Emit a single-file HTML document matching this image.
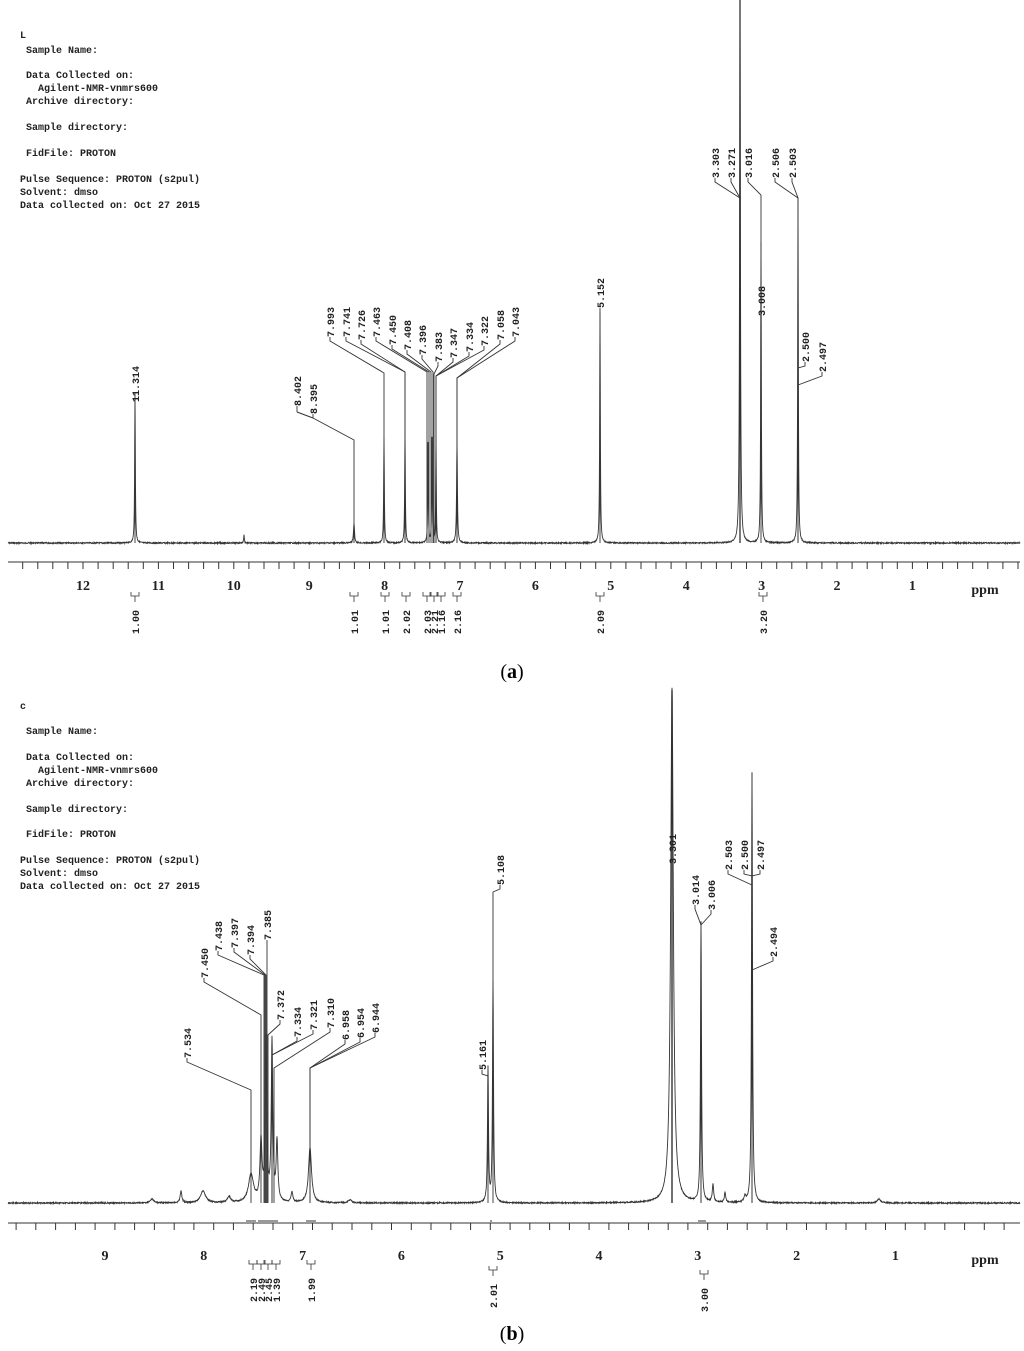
<!DOCTYPE html>
<html><head><meta charset="utf-8"><style>
html,body{margin:0;padding:0;background:#fff;}
svg{display:block;}
.t{font-family:"Liberation Mono",monospace;font-size:10px;font-weight:bold;fill:#222;}
.l{font-family:"Liberation Mono",monospace;font-size:10px;font-weight:bold;fill:#222;}
.n{font-family:"Liberation Serif",serif;font-size:14px;font-weight:bold;fill:#222;}
.c{font-family:"Liberation Serif",serif;font-size:20px;fill:#000;}
</style></head><body>
<svg id="s" width="1024" height="1351" viewBox="0 0 1024 1351" xmlns="http://www.w3.org/2000/svg">
<g fill="none" stroke="#333" stroke-width="1" id="g"></g>
<g id="tx"></g>
<text class="t" x="20" y="38">L</text>
<text class="t" x="26" y="53">Sample Name:</text>
<text class="t" x="26" y="78">Data Collected on:</text>
<text class="t" x="38" y="91">Agilent-NMR-vnmrs600</text>
<text class="t" x="26" y="104">Archive directory:</text>
<text class="t" x="26" y="130">Sample directory:</text>
<text class="t" x="26" y="156">FidFile: PROTON</text>
<text class="t" x="20" y="182">Pulse Sequence: PROTON (s2pul)</text>
<text class="t" x="20" y="195">Solvent: dmso</text>
<text class="t" x="20" y="208">Data collected on: Oct 27 2015</text>

<text class="t" x="20" y="709">c</text>
<text class="t" x="26" y="734">Sample Name:</text>
<text class="t" x="26" y="760">Data Collected on:</text>
<text class="t" x="38" y="773">Agilent-NMR-vnmrs600</text>
<text class="t" x="26" y="786">Archive directory:</text>
<text class="t" x="26" y="812">Sample directory:</text>
<text class="t" x="26" y="837">FidFile: PROTON</text>
<text class="t" x="20" y="863">Pulse Sequence: PROTON (s2pul)</text>
<text class="t" x="20" y="876">Solvent: dmso</text>
<text class="t" x="20" y="889">Data collected on: Oct 27 2015</text>

<text class="c" x="512" y="678" text-anchor="middle">(<tspan font-weight="bold">a</tspan>)</text>
<text class="c" x="512" y="1340" text-anchor="middle">(<tspan font-weight="bold">b</tspan>)</text>
</svg>
<script>
var NS="http://www.w3.org/2000/svg",g=document.getElementById('g'),tx=document.getElementById('tx');
function P(d,w){var p=document.createElementNS(NS,'path');p.setAttribute('d',d);if(w)p.setAttribute('stroke-width',w);g.appendChild(p);}
function T(x,y,s,cls,rot,anchor){var t=document.createElementNS(NS,'text');t.setAttribute('class',cls);t.setAttribute('x',x);t.setAttribute('y',y);if(rot)t.setAttribute('transform','rotate(-90 '+x+' '+y+')');if(anchor)t.setAttribute('text-anchor',anchor);t.textContent=s;tx.appendChild(t);}
function spec(base,peaks,seed){var d='';var r=seed;for(var x=8;x<=1020;x+=0.25){var y=base;for(var i=0;i<peaks.length;i++){var p=peaks[i];var u=(x-p[0])/p[2];y-=p[1]/(1+u*u);}r=(r*9301+49297)%233280;y+=(r/233280-0.5)*1.2;if(y<0)y=0;d+=(d?'L':'M')+x+' '+y.toFixed(1);}P(d,0.9);}
function axis(y,x0,ppm0,ppx,maxp,labY){P('M8 '+y+'L1020 '+y);for(var p=maxp;p>=-0.4;p-=0.2){var x=x0+(ppm0-p)*ppx;if(x<8||x>1020)continue;P('M'+x.toFixed(1)+' '+y+'l0 7');}for(var k=Math.floor(maxp);k>=1;k--){var x=x0+(ppm0-k)*ppx;T(x,labY,String(k),'n',0,'middle');}T(985,labY+4,'ppm','n',0,'middle');}
function L(tx_,tb,px,by,s,ey){T(tx_+4,tb,s,'l',1);P('M'+tx_+' '+tb+'l0 4L'+px+' '+by+'L'+px+' '+ey,0.9);}
function I(x,y,s){P('M'+(x-4)+' '+(y-6)+'l0 4l8 0l0 -4M'+x+' '+(y-2)+'l0 6',0.8);T(x+4,y+36,s,'l',1);}
// ===== (a) =====
spec(543,[[135,150,0.4],[354,20,0.6],[384,105,0.4],[405,110,0.4],[428,100,0.35],[432,105,0.35],[436,105,0.35],[457,100,0.5],[600,230,0.4],[740,540,0.5],[761,300,0.4],[798,340,0.4],[244,8,0.4]],7);
axis(562,83,12,75.4,12.8,590);
L(135,402,135,402,'11.314',543);
L(297,406,297,412,'8.402',412);P('M297 412L313 418');
L(313,414,354,440,'8.395',543);
var al=[[330,337,384,373,'7.993'],[346,337,405,372,'7.741'],[361,340,405,372,'7.726'],[376,337,427,372,'7.463'],[392,345,429,372,'7.450'],[407,350,431,372,'7.408'],[422,355,433,372,'7.396'],[438,362,434,374,'7.383'],[453,358,436,376,'7.347'],[469,352,436,376,'7.334'],[484,346,436,376,'7.322'],[500,340,457,378,'7.058'],[515,337,457,378,'7.043']];
al.forEach(function(a){L(a[0],a[1],a[2],a[3],a[4],543);});
L(600,308,600,312,'5.152',543);
L(715,178,740,198,'3.303',543);L(731,178,740,198,'3.271',543);L(748,178,761,195,'3.016',543);
L(775,178,798,198,'2.506',543);L(792,178,798,198,'2.503',543);
T(765,316,'3.008','l',1);
L(805,362,798,368,'2.500',543);L(822,372,798,385,'2.497',543);
P('M740 0L740 543',1.3);
I(135,598,'1.00');I(354,598,'1.01');I(385,598,'1.01');I(406,598,'2.02');I(427,598,'2.03');I(434,598,'2.21');I(441,598,'1.16');I(457,598,'2.16');I(600,598,'2.09');I(763,598,'3.20');
// ===== (b) =====
spec(1203,[[152,4,2],[181,12,1],[203,12,3],[229,6,2],[251,28,3],[261,60,1.2],[266,160,0.9],[272,160,0.9],[277,60,1],[292,10,1],[310,55,1.8],[350,3,2],[488,135,0.6],[493,220,0.6],[672,515,1.6],[701,280,0.6],[713,18,0.8],[725,10,0.8],[752,430,0.6],[745,6,1],[879,4,2]],11);
axis(1223,105,9,98.8,9.9,1260);
L(187,1058,251,1090,'7.534',1203);
L(204,978,261,1015,'7.450',1203);
L(218,951,264,975,'7.438',1203);L(234,948,265,975,'7.397',1203);L(250,955,266,975,'7.394',1203);L(267,940,267,975,'7.385',1203);
L(280,1020,268,1035,'7.372',1203);
L(297,1037,272,1055,'7.334',1203);L(313,1030,272,1055,'7.321',1203);
L(330,1028,274,1068,'7.310',1203);
L(345,1040,310,1068,'6.958',1203);L(360,1038,310,1068,'6.954',1203);L(375,1033,310,1068,'6.944',1203);
L(500,885,493,892,'5.108',1203);
L(482,1070,488,1076,'5.161',1203);
P('M672 690L672 1203',1.4);T(676,864,'3.301','l',1);
L(695,905,701,925,'3.014',1203);L(711,910,701,925,'3.006',1203);
L(728,870,752,885,'2.503',1203);L(744,870,752,876,'2.500',1203);L(760,870,752,876,'2.497',1203);
L(773,957,752,970,'2.494',1203);
P('M752 773L752 1203',1);
P('M246 1221l10 0M258 1221l10 0M268 1221l10 0M306 1221l10 0M490 1221l2 0M698 1221l8 0',1);
I(253,1266,'2.19');I(261,1266,'2.49');I(268,1266,'2.45');I(276,1266,'1.39');I(311,1266,'1.99');I(493,1272,'2.01');I(704,1276,'3.00');
</script>
</body></html>
